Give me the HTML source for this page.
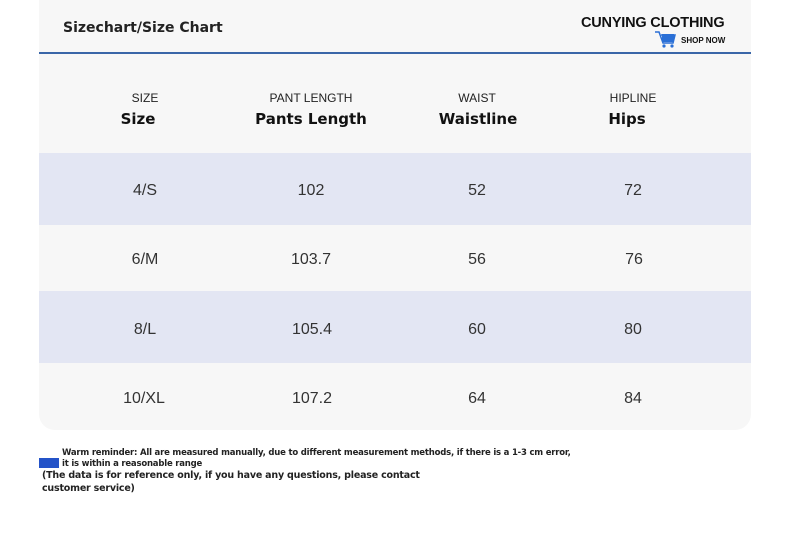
<!DOCTYPE html>
<html><head><style>
body{margin:0;width:790px;height:543px;background:#fff;position:relative;font-family:"Liberation Sans",sans-serif;overflow:hidden}
.card{position:absolute;left:39px;top:0;width:712px;height:430px;background:#f7f7f7;border-radius:0 0 16px 16px;overflow:hidden}
.t{position:absolute;transform:translateX(-50%);white-space:nowrap;color:#222}
.row{position:absolute;left:0;width:712px}
.s{font-size:12px;color:#222}
.b{font-family:"DejaVu Sans",sans-serif;font-weight:bold;font-size:15px;color:#111}
.v{font-size:16px;color:#333}
</style></head><body>
<div class="card">
<div style="position:absolute;left:24px;top:20px;font-family:'DejaVu Sans',sans-serif;font-weight:bold;font-size:14px;color:#222">Sizechart/Size Chart</div>
<div style="position:absolute;left:542px;top:15px;font-size:14.5px;font-weight:bold;color:#111;letter-spacing:-0.2px">CUNYING CLOTHING</div>
<svg style="position:absolute;left:616px;top:30px" width="22" height="18"><path d="M0 2h4l4 11h10l2-8H6" fill="none" stroke="#2a6fd6" stroke-width="1.5"/><rect x="7" y="4" width="12" height="8" fill="#2a6fd6"/><circle cx="9" cy="16" r="1.6" fill="#2a6fd6"/><circle cx="17" cy="16" r="1.6" fill="#2a6fd6"/></svg>
<div style="position:absolute;left:642px;top:36px;font-size:8px;font-weight:bold;color:#111">SHOP NOW</div>
<div class="row" style="top:52px;height:2px;background:#3a66a8"></div>
<div class="row" style="top:153px;height:72px;background:#e3e6f3"></div>
<div class="row" style="top:291px;height:72px;background:#e3e6f3"></div>
</div>
<div class="t s" style="left:145px;top:91px">SIZE</div>
<div class="t s" style="left:311px;top:91px">PANT LENGTH</div>
<div class="t s" style="left:477px;top:91px">WAIST</div>
<div class="t s" style="left:633px;top:91px">HIPLINE</div>
<div class="t b" style="left:138px;top:110px">Size</div>
<div class="t b" style="left:311px;top:110px">Pants Length</div>
<div class="t b" style="left:478px;top:110px">Waistline</div>
<div class="t b" style="left:627px;top:110px">Hips</div>
<div class="t v" style="left:145px;top:182px">4/S</div><div class="t v" style="left:311px;top:182px">102</div><div class="t v" style="left:477px;top:182px">52</div><div class="t v" style="left:633px;top:182px">72</div>
<div class="t v" style="left:145px;top:251px">6/M</div><div class="t v" style="left:311px;top:251px">103.7</div><div class="t v" style="left:477px;top:251px">56</div><div class="t v" style="left:634px;top:251px">76</div>
<div class="t v" style="left:145px;top:321px">8/L</div><div class="t v" style="left:312px;top:321px">105.4</div><div class="t v" style="left:477px;top:321px">60</div><div class="t v" style="left:633px;top:321px">80</div>
<div class="t v" style="left:144px;top:390px">10/XL</div><div class="t v" style="left:312px;top:390px">107.2</div><div class="t v" style="left:477px;top:390px">64</div><div class="t v" style="left:633px;top:390px">84</div>
<div style="position:absolute;left:39px;top:458px;width:20px;height:10px;background:#2453c8"></div>
<div style="position:absolute;left:62px;top:448px;font-family:'DejaVu Sans',sans-serif;font-size:8.5px;font-weight:bold;color:#222;line-height:11px;letter-spacing:-0.2px">Warm reminder: All are measured manually, due to different measurement methods, if there is a 1-3 cm error,<br>it is within a reasonable range</div>
<div style="position:absolute;left:42px;top:469px;font-family:'DejaVu Sans',sans-serif;font-size:9.5px;font-weight:bold;color:#222;line-height:13px;letter-spacing:-0.2px">(The data is for reference only, if you have any questions, please contact<br>customer service)</div>
</body></html>
